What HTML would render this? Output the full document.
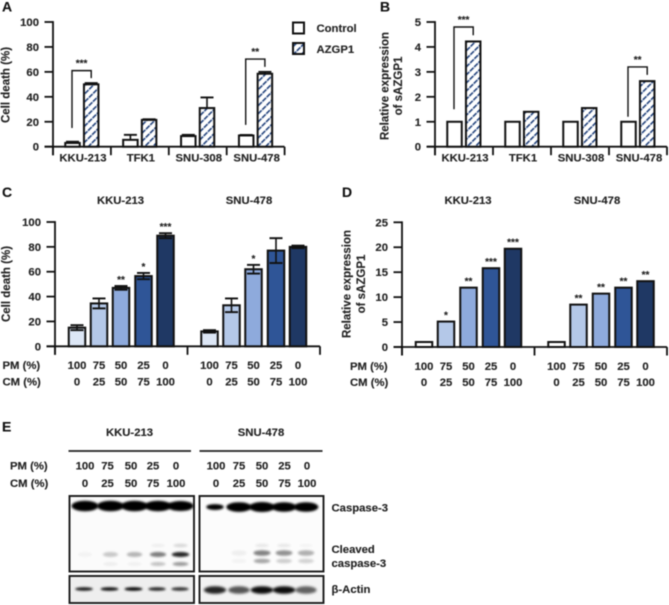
<!DOCTYPE html>
<html>
<head>
<meta charset="utf-8">
<title>AZGP1 figure</title>
<style>
html,body{margin:0;padding:0;background:#fff;}
svg{display:block;filter:blur(0.45px);}
text{font-family:"Liberation Sans",sans-serif;font-weight:bold;font-size:11.3px;fill:#222;stroke:#222;stroke-width:0.12px;}
.letter{font-size:14px;fill:#111;}
</style>
</head>
<body>
<svg id="fig" xmlns="http://www.w3.org/2000/svg" width="669" height="605" viewBox="0 0 669 605">
<defs>
<pattern id="hatch" patternUnits="userSpaceOnUse" width="5.7" height="6" patternTransform="rotate(45)">
<rect width="5.7" height="6" fill="#fff"/>
<rect x="0" y="0" width="1.6" height="6" fill="#22427c"/>
<rect x="0" y="0" width="1.6" height="1.1" fill="#dfe6f2"/>
</pattern>
<filter id="b1" x="-30%" y="-120%" width="160%" height="340%"><feGaussianBlur stdDeviation="1"/></filter>
<filter id="b2" x="-30%" y="-150%" width="160%" height="400%"><feGaussianBlur stdDeviation="1.4"/></filter>
</defs>
<rect width="669" height="605" fill="#fff"/>

<text class="letter" x="2" y="11.5">A</text>
<text class="letter" x="380" y="11.5">B</text>
<text class="letter" x="2" y="197">C</text>
<text class="letter" x="342" y="197">D</text>
<text class="letter" x="2" y="431.5">E</text>

<text transform="translate(9.5,85) rotate(-90)" text-anchor="middle" style="font-size:11.5px">Cell death (%)</text>
<text transform="translate(388.5,86) rotate(-90)" text-anchor="middle" style="font-size:11.5px">Relative expression</text>
<text transform="translate(402,86) rotate(-90)" text-anchor="middle" style="font-size:11.5px">of sAZGP1</text>
<text transform="translate(10,284) rotate(-90)" text-anchor="middle" style="font-size:11.5px">Cell death (%)</text>
<text transform="translate(350.5,284) rotate(-90)" text-anchor="middle" style="font-size:11.5px">Relative expression</text>
<text transform="translate(365,284) rotate(-90)" text-anchor="middle" style="font-size:11.5px">of sAZGP1</text>

<rect x="293" y="22.5" width="11" height="11" fill="#fff" stroke="#111" stroke-width="2"/>
<text x="316.5" y="32">Control</text>
<rect x="293" y="43" width="11" height="11" fill="url(#hatch)" stroke="#111" stroke-width="2"/>
<text x="316.5" y="53">AZGP1</text>

<text x="120.5" y="204" text-anchor="middle">KKU-213</text>
<text x="249" y="204" text-anchor="middle">SNU-478</text>
<text x="468" y="204" text-anchor="middle">KKU-213</text>
<text x="597" y="204" text-anchor="middle">SNU-478</text>
<text x="2.5" y="369">PM (%)</text>
<text x="2.5" y="385.5">CM (%)</text>
<text x="350" y="370">PM (%)</text>
<text x="350" y="386">CM (%)</text>

<text x="129.5" y="436" text-anchor="middle">KKU-213</text>
<text x="261" y="436" text-anchor="middle">SNU-478</text>
<line x1="68.5" x2="191" y1="451" y2="451" stroke="#222" stroke-width="1.8"/>
<line x1="199.5" x2="322.5" y1="451" y2="451" stroke="#222" stroke-width="1.8"/>
<text x="10" y="469.5">PM (%)</text>
<text x="10" y="487">CM (%)</text>
<text x="331.5" y="511.5">Caspase-3</text>
<text x="331.5" y="553">Cleaved</text>
<text x="331.5" y="567">caspase-3</text>
<text x="331.5" y="593">β-Actin</text>
</svg>

<script>
// Panel A / B data
const groupLabels = ['KKU-213', 'TFK1', 'SNU-308', 'SNU-478'];
const aTicks = [0, 20, 40, 60, 80, 100];
const aControl = [3, 5.5, 8.5, 9];
const aControlErr = [1, 4, 1, 0.4];
const aAzgp = [50, 21.5, 31, 58.5];
const aAzgpErr = [1, 0.5, 8.5, 1.5];
const bTicks = [0, 1, 2, 3, 4, 5];
const bControl = [1, 1, 1, 1];
const bAzgp = [4.22, 1.4, 1.55, 2.63];
// Brackets: group index, left foot, top, right foot (in axis units)
const aBrackets = [[0, 15, 61, 55, '***'], [3, 17.5, 70.3, 64, '**']];
const bBrackets = [[0, 1.5, 4.8, 4.47, '***'], [3, 1.2, 3.2, 2.88, '**']];

// Panel C / D data
const pmLabels = ['100', '75', '50', '25', '0'];
const cmLabels = ['0', '25', '50', '75', '100'];
const cTicks = [0, 20, 40, 60, 80, 100];
const cKku = [15, 34.5, 47, 56.5, 89];
const cKkuErr = [2, 4, 1.5, 2.5, 2];
const cKkuStars = ['', '', '**', '*', '***'];
const cSnu = [12, 33, 62, 77, 80];
const cSnuErr = [1, 5.5, 3.5, 10, 1];
const cSnuStars = ['', '', '*', '', ''];
const dTicks = [0, 5, 10, 15, 20, 25];
const dKku = [1, 5.1, 11.9, 15.8, 19.7];
const dKkuStars = ['', '*', '**', '***', '***'];
const dSnu = [1, 8.5, 10.7, 11.9, 13.2];
const dSnuStars = ['', '**', '**', '**', '**'];
const cFills = ['#dce6f5', '#b4c8e8', '#8eaadc', '#2f5597', '#1f3864'];
const dFills = ['#ffffff', '#b4c8e8', '#8eaadc', '#2f5597', '#1f3864'];

// Panel E band densities (0-1)
const casKku = [1, 1, 1, 1, 0.95];
const casSnu = [0.45, 0.95, 1, 0.92, 0.92];
const clvUpperKku = [0.03, 0.2, 0.28, 0.5, 0.85];
const clvLowerKku = [0, 0.05, 0.04, 0.22, 0.38];
const clvFaintKku = [0, 0, 0, 0.05, 0.14];
const clvUpperSnu = [0, 0.05, 0.48, 0.42, 0.3];
const clvLowerSnu = [0, 0.03, 0.34, 0.18, 0.16];
const clvFaintSnu = [0, 0, 0.08, 0.08, 0.03];
const actKku = [0.9, 0.95, 1, 0.85, 0.8];
const actSnu = [0.85, 0.65, 0.95, 0.95, 0.6];

const NS = 'http://www.w3.org/2000/svg';
const fig = document.getElementById('fig');

function mk(tag, attrs, name, parent) {
  const el = document.createElementNS(NS, tag);
  for (const k in attrs) el.setAttribute(k, attrs[k]);
  
  
  (parent || fig).appendChild(el);
  return el;
}
function line(x1, y1, x2, y2, w, name, parent) {
  return mk('line', {x1, y1, x2, y2, stroke: '#111', 'stroke-width': w}, name, parent);
}
function label(x, y, s, anchor, name, parent) {
  const t = mk('text', {x, y, 'text-anchor': anchor}, name, parent);
  t.textContent = s;
  return t;
}

function linScale(d0, d1, r0, r1) {
  return v => r0 + (v - d0) * (r1 - r0) / (d1 - d0);
}

function axes(g, prefix, ticks, y, xAxis, x0, x1, sep, tickLen) {
  line(xAxis, y(ticks[ticks.length - 1]) - 0.9, xAxis, y(0) + 8.5, 1.8, prefix + '-y-axis', g);
  line(x0, y(0), x1, y(0), 1.8, prefix + '-x-axis', g);
  ticks.forEach(v => {
    line(xAxis - tickLen, y(v), xAxis, y(v), 1.8, prefix + '-y-tick', g);
    label(xAxis - tickLen - 5.5, y(v) + 4, String(v), 'end', prefix + '-y-tick-label', g);
  });
  sep.forEach(x => line(x, y(0), x, y(0) + 8.5, 1.8, prefix + '-x-tick', g));
}

function bar(g, cx, w, v, y, fill, name) {
  const top = y(v);
  return mk('rect', {x: cx - w / 2, y: top, width: w, height: y(0) - top, fill, stroke: '#111', 'stroke-width': 2}, name, g);
}
function errUp(g, cx, v, e, y, cap, both, name) {
  line(cx, y(both ? v - e : v), cx, y(v + e), 1.6, name + '-stem', g);
  line(cx - cap, y(v + e), cx + cap, y(v + e), 1.9, name + '-cap-top', g);
  if (both) line(cx - cap, y(v - e), cx + cap, y(v - e), 1.9, name + '-cap-bottom', g);
}

// ----- Panels A and B -----
function groupedPanel(prefix, ticks, maxV, xAxis, x0, x1, groupW, ctrl, ctrlErr, azgp, azgpErr, brackets) {
  const g = mk('g', {}, prefix, fig);
  const y = linScale(0, maxV, 146.7, 22);
  const sep = [0, 1, 2, 3, 4].map(i => xAxis + i * groupW);
  axes(g, prefix, ticks, y, xAxis, x0, x1, sep, 8.5);
  const cCtrl = i => xAxis + i * groupW + 19.5;
  const cAz = i => xAxis + i * groupW + 38.2;
  groupLabels.forEach((name, i) => {
    const cx = xAxis + (i + 0.5) * groupW;
    label(cx + 1, 161.5, name, 'middle', prefix + '-x-label-' + name.toLowerCase(), g);
    if (ctrlErr) errUp(g, cCtrl(i), ctrl[i], ctrlErr[i], y, 6.5, false, prefix + '-control-error');
    bar(g, cCtrl(i), 14.5, ctrl[i], y, '#fff', prefix + '-control-bar-' + name.toLowerCase());
    if (azgpErr) errUp(g, cAz(i), azgp[i], azgpErr[i], y, 6.5, false, prefix + '-azgp1-error');
    bar(g, cAz(i), 14.5, azgp[i], y, 'url(#hatch)', prefix + '-azgp1-bar-' + name.toLowerCase());
  });
  brackets.forEach(b => {
    const i = b[0];
    const xl = cCtrl(i) - 0.5;
    const xr = cAz(i);
    const pts = [xl, y(b[1]), xl, y(b[2]), xr, y(b[2]), xr, y(b[3])].join(' ');
    mk('polyline', {points: pts, fill: 'none', stroke: '#111', 'stroke-width': 1.4}, prefix + '-significance-bracket', g);
    label((xl + xr) / 2, y(b[2]) - 4, b[4], 'middle', prefix + '-significance-stars', g).setAttribute('style', 'font-size:10px');
  });
}
groupedPanel('panel-a', aTicks, 100, 53, 44.5, 284.5, 57.9, aControl, aControlErr, aAzgp, aAzgpErr, aBrackets);
groupedPanel('panel-b', bTicks, 5, 435, 427, 667, 58, bControl, null, bAzgp, null, bBrackets);

// ----- Panels C and D -----
function ratioPanel(prefix, ticks, maxV, xAxis, xEnd, y0, yTop, centers, lineA, lineB, errA, errB, starsA, starsB, fills, rowY) {
  const g = mk('g', {}, prefix, fig);
  const y = linScale(0, maxV, y0, yTop);
  const mid = (xAxis + xEnd) / 2;
  axes(g, prefix, ticks, y, xAxis, xAxis - 8.5, xEnd, [xAxis, mid, xEnd], 8.5);
  const draw = (vals, errs, stars, off, tag) => {
    vals.forEach((v, i) => {
      const cx = off + centers[i];
      bar(g, cx, 16.5, v, y, fills[i], prefix + '-bar-' + tag + '-' + pmLabels[i]);
      let top = y(v);
      if (errs) {
        errUp(g, cx, v, errs[i], y, 6.5, true, prefix + '-error-' + tag);
        top = y(v + errs[i]);
      }
      if (stars[i]) {
        label(cx, top - 3, stars[i], 'middle', prefix + '-stars-' + tag, g).setAttribute('style', 'font-size:10px');
      }
      label(cx, rowY[0], pmLabels[i], 'middle', prefix + '-pm-value-' + tag, g);
      label(cx, rowY[1], cmLabels[i], 'middle', prefix + '-cm-value-' + tag, g);
    });
  };
  draw(lineA, errA, starsA, 0, 'kku-213');
  draw(lineB, errB, starsB, mid - xAxis, 'snu-478');
}
ratioPanel('panel-c', cTicks, 100, 55, 320, 346.3, 222, [77, 99, 121, 143.5, 165.5], cKku, cSnu, cKkuErr, cSnuErr, cKkuStars, cSnuStars, cFills, [369, 385.5]);
ratioPanel('panel-d', dTicks, 25, 402, 667, 347, 222.3, [424, 446, 468.5, 491, 513], dKku, dSnu, null, null, dKkuStars, dSnuStars, dFills, [370, 386]);

// ----- Panel E -----
const eLanesKku = [85, 107.5, 131, 153, 176];
const eLanesSnu = [216, 239, 262, 284.5, 307];
const gE = mk('g', {}, 'panel-e', fig);
pmLabels.forEach((s, i) => {
  label(eLanesKku[i], 469.5, s, 'middle', 'panel-e-pm-value-kku-213', gE);
  label(eLanesKku[i], 487, cmLabels[i], 'middle', 'panel-e-cm-value-kku-213', gE);
  label(eLanesSnu[i], 469.5, s, 'middle', 'panel-e-pm-value-snu-478', gE);
  label(eLanesSnu[i], 487, cmLabels[i], 'middle', 'panel-e-cm-value-snu-478', gE);
});
const bandCentersKku = [85, 110.5, 134.5, 158, 180.5];
const bandCentersSnu = [215, 239, 262, 284, 306];
function blotBox(x, y, w, h, bg, name) {
  return mk('rect', {x, y, width: w, height: h, fill: bg, stroke: '#1a1a1a', 'stroke-width': 1.9}, name, gE);
}
// Strong bands grow with density and stay black; weak bands keep their width and fade.
function strongBands(vals, centers, yc, w, h, filter, name) {
  vals.forEach((v, i) => {
    mk('ellipse', {
      cx: centers[i], cy: yc, rx: w / 2 * (0.4 + 0.6 * v), ry: h / 2 * (0.25 + 0.75 * v),
      fill: '#000', filter: 'url(#' + filter + ')'
    }, name, gE);
  });
}
function weakBands(vals, centers, yc, w, h, filter, name) {
  vals.forEach((v, i) => {
    if (v <= 0) return;
    mk('ellipse', {
      cx: centers[i], cy: yc, rx: w / 2 * (0.8 + 0.2 * v), ry: h / 2,
      fill: '#000', opacity: v, filter: 'url(#' + filter + ')'
    }, name, gE);
  });
}
blotBox(69.5, 496, 124.5, 75.5, '#fbfbfb', 'caspase-blot-kku-213');
blotBox(199.5, 496, 124, 75.5, '#fcfcfc', 'caspase-blot-snu-478');
blotBox(69.5, 576, 124.5, 27, '#eeeeee', 'actin-blot-kku-213');
blotBox(199.5, 576, 124, 27, '#f3f3f3', 'actin-blot-snu-478');
strongBands(casKku, bandCentersKku, 506, 27, 10.5, 'b1', 'caspase-band-kku-213');
strongBands(casSnu, bandCentersSnu, 507, 26, 10, 'b1', 'caspase-band-snu-478');
weakBands(clvFaintKku, bandCentersKku, 545.5, 17, 3.5, 'b1', 'cleaved-faint-band-kku-213');
weakBands(clvUpperKku, bandCentersKku, 554.5, 18, 5, 'b1', 'cleaved-upper-band-kku-213');
weakBands(clvLowerKku, bandCentersKku, 564, 18, 4, 'b1', 'cleaved-lower-band-kku-213');
weakBands(clvFaintSnu, bandCentersSnu, 545.5, 17, 3.5, 'b1', 'cleaved-faint-band-snu-478');
weakBands(clvUpperSnu, bandCentersSnu, 553, 19, 5.5, 'b1', 'cleaved-upper-band-snu-478');
weakBands(clvLowerSnu, bandCentersSnu, 561, 19, 4.5, 'b1', 'cleaved-lower-band-snu-478');
weakBands(actKku, [84, 109.5, 133.5, 157, 180], 589, 18, 3.6, 'b1', 'actin-band-kku-213');
weakBands(actSnu, bandCentersSnu, 590, 23, 7.5, 'b2', 'actin-band-snu-478');
</script>
</body>
</html>
